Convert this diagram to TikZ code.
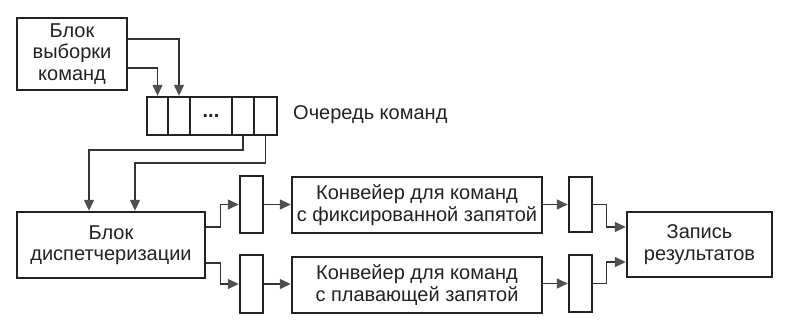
\documentclass[tikz,border=0pt]{standalone}
\usepackage{fontspec}
\setmainfont{Liberation Sans}
\usetikzlibrary{arrows.meta}
\definecolor{ink}{HTML}{222222}
\definecolor{wire}{HTML}{333333}
\definecolor{tip}{HTML}{505050}
\begin{document}
\begin{tikzpicture}[x=1pt,y=-1pt,
  every node/.style={font=\fontsize{20}{21.5}\selectfont, text=ink},
  blk/.style={draw=ink, line width=2.4pt, inner sep=0pt, align=center, fill=white},
  cell/.style={blk},
  arr/.style={draw=wire, line width=1.3pt, -{Triangle[length=11pt,width=10pt,fill=tip,color=tip]}},
  ln/.style={draw=wire, line width=1.3pt}]
\useasboundingbox (0,0) rectangle (792,325);
% fetch block
\node[blk, minimum width=110pt, minimum height=72pt] (fetch) at (72,54) {Блок\\выборки\\команд};
% queue
\node[cell, minimum width=21pt, minimum height=38pt] (q1) at (157.5,116) {};
\node[cell, minimum width=22pt, minimum height=38pt] (q2) at (179,116) {};
\node[cell, minimum width=42pt, minimum height=38pt] (q3) at (211,116) {\textbf{...}};
\node[cell, minimum width=22pt, minimum height=38pt] (q4) at (243,116) {};
\node[cell, minimum width=23pt, minimum height=38pt] (q5) at (265.5,116) {};
\node[anchor=west, inner sep=0pt] (qlab) at (293,115) {Очередь команд};
% dispatch
\node[blk, minimum width=188pt, minimum height=66pt] (disp) at (111,245) {Блок\\диспетчеризации};
% buffers
\node[blk, minimum width=23pt, minimum height=57pt] (b1) at (251.5,204.5) {};
\node[blk, minimum width=23pt, minimum height=58pt] (b2) at (251.5,284) {};
% pipelines
\node[blk, minimum width=250pt, minimum height=56pt] (p1) at (417,205) {Конвейер для команд\\с фиксированной запятой};
\node[blk, minimum width=250pt, minimum height=56pt] (p2) at (417,285) {Конвейер для команд\\с плавающей запятой};
% output buffers
\node[blk, minimum width=23pt, minimum height=55pt] (c1) at (580.5,204.5) {};
\node[blk, minimum width=23pt, minimum height=57pt] (c2) at (580.5,283.5) {};
% result
\node[blk, minimum width=145pt, minimum height=65pt] (res) at (699.5,244.5) {Запись\\результатов};
% connectors
\draw[arr] ([yshift=15pt]fetch.east) -| (q2.north);
\draw[arr] ([yshift=-14pt]fetch.east) -| (q1.north);
\coordinate (j1) at (89,150);
\coordinate (j2) at (135,163);
\draw[arr] (q4.south) |- (j1) -- (j1 |- disp.north);
\draw[arr] (q5.south) |- (j2) -- (j2 |- disp.north);
\draw[arr] ([yshift=18pt]disp.east) -- ++(14,0) |- (b1.west);
\draw[arr] ([yshift=-18pt]disp.east) -- ++(14,0) |- (b2.west);
\draw[arr] (b1.east) -- (b1.east -| p1.west);
\draw[arr] (b2.east) -- (b2.east -| p2.west);
\draw[arr] (p1.east |- c1.west) -- (c1.west);
\draw[arr] (p2.east |- c2.west) -- (c2.west);
\draw[arr] (c1.east) -- ++(13,0) |- ([yshift=17.5pt]res.west);
\draw[arr] (c2.east) -- ++(13,0) |- ([yshift=-17.5pt]res.west);
\end{tikzpicture}
\end{document}
